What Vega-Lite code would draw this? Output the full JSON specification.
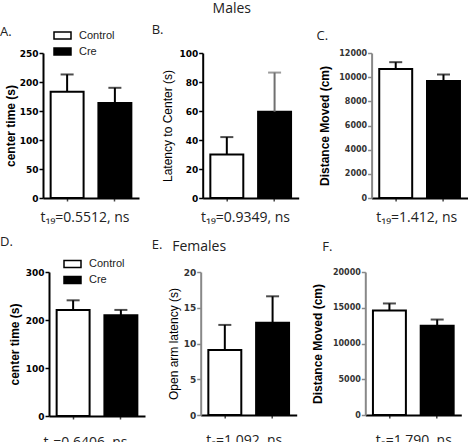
{
  "$schema": "https://vega.github.io/schema/vega-lite/v6.json",
  "padding": {"left": 0, "top": 2, "right": 0, "bottom": 0},
  "background": "white",
  "datasets": {
    "d": [
      {"panel": "A", "group": "Control", "value": 183, "upper": 213},
      {"panel": "A", "group": "Cre", "value": 164, "upper": 190},
      {"panel": "B", "group": "Control", "value": 30, "upper": 42},
      {"panel": "B", "group": "Cre", "value": 59.5, "upper": 86.5},
      {"panel": "C", "group": "Control", "value": 10680, "upper": 11240},
      {"panel": "C", "group": "Cre", "value": 9680, "upper": 10220},
      {"panel": "D", "group": "Control", "value": 221, "upper": 241},
      {"panel": "D", "group": "Cre", "value": 210, "upper": 221},
      {"panel": "E", "group": "Control", "value": 9.1, "upper": 12.6},
      {"panel": "E", "group": "Cre", "value": 12.9, "upper": 16.6},
      {"panel": "F", "group": "Control", "value": 14600, "upper": 15600},
      {"panel": "F", "group": "Cre", "value": 12500, "upper": 13350}
    ]
  },
  "data": {"name": "d"},
  "config": {
    "view": {"stroke": null},
    "axis": {"grid": false, "domainColor": "black", "domainWidth": 2, "tickColor": "black", "tickWidth": 1.5, "tickSize": 4,
      "labelFont": "DejaVu Sans", "labelFontWeight": "bold", "labelFontSize": 9, "labelColor": "black", "labelPadding": 1, "labelOverlap": false, "titleColor": "black"},
    "axisX": {"labels": false, "tickSize": 3, "tickColor": "#444", "minExtent": 3, "maxExtent": 3, "titlePadding": 9.5,
      "titleFont": "Open Sans", "titleFontSize": 14, "titleFontWeight": "normal", "titleColor": "#222", "titleAlign": "center"},
    "axisY": {"titleFont": "Liberation Sans", "titleFontSize": 12, "titleFontWeight": "bold", "titlePadding": 0},
    "legend": {"padding": 0, "offset": 0, "rowPadding": 0, "symbolType": "M-1,-0.41H1V0.41H-1Z", "symbolSize": 289,
      "symbolStrokeColor": "black", "symbolStrokeWidth": 1.5, "labelFont": "Liberation Sans", "labelFontSize": 11, "labelColor": "#222", "labelOffset": 7},
    "title": {"anchor": "start", "frame": "group", "font": "Open Sans", "fontSize": 13, "fontWeight": "normal", "color": "#222", "baseline": "alphabetic"}
  },
  "resolve": {"scale": {"fill": "independent"}, "legend": {"fill": "independent"}},
  "columns": 1,
  "align": "none",
  "bounds": "full",
  "spacing": 10,
  "concat": [
    {
      "title": {"text": "Males", "anchor": "middle", "frame": "bounds", "fontSize": 14, "dx": -2, "offset": 8},
      "bounds": "full",
      "spacing": 17.6,
      "resolve": {"scale": {"fill": "independent"}, "legend": {"fill": "independent"}},
      "hconcat": [
        {
          "bounds": "flush",
          "spacing": 63.7,
          "resolve": {"scale": {"fill": "independent"}, "legend": {"fill": "independent"}},
          "hconcat": [
            {
              "width": 96, "height": 145,
              "title": {"text": "A.", "dx": -43, "offset": -12.5},
              "transform": [{"filter": "datum.panel==='A'"}],
              "encoding": {
                "x": {"field": "group", "type": "nominal", "sort": ["Control", "Cre"], "scale": {"paddingInner": 0.31, "paddingOuter": 0.16}, "axis": {"title": "t₁₉=0.5512, ns", "titleX": 41.5}},
                "y": {"field": "value", "type": "quantitative", "scale": {"domain": [0, 250]}, "title": "center time (s)", "axis": {"values": [0, 50, 100, 150, 200, 250], "labelOverlap": false, "minExtent": 26, "maxExtent": 26}}
              },
              "layer": [
                {"mark": {"type": "bar", "stroke": "black", "strokeWidth": 2},
                 "encoding": {"fill": {"field": "group", "type": "nominal", "scale": {"domain": ["Control", "Cre"], "range": ["white", "black"]}, "legend": {"orient": "none", "legendX": 10, "legendY": -27, "title": null}}}},
                {"mark": {"type": "rule", "strokeWidth": 2, "color": "black"}, "encoding": {"y2": {"field": "upper"}}},
                {"mark": {"type": "tick", "thickness": 2, "size": 13, "color": "black"}, "encoding": {"y": {"field": "upper", "type": "quantitative", "scale": {"domain": [0, 250]}, "title": "center time (s)", "axis": {"values": [0, 50, 100, 150, 200, 250], "labelOverlap": false, "minExtent": 26, "maxExtent": 26}}}}
              ]
            },
            {
              "width": 96, "height": 145,
              "title": {"text": "B.", "dx": -51, "offset": 11.8},
              "transform": [{"filter": "datum.panel==='B'"}],
              "encoding": {
                "x": {"field": "group", "type": "nominal", "sort": ["Control", "Cre"], "scale": {"paddingInner": 0.31, "paddingOuter": 0.16}, "axis": {"title": "t₁₉=0.9349, ns", "titleX": 42.3}},
                "y": {"field": "value", "type": "quantitative", "scale": {"domain": [0, 100]}, "title": "Latency to Center (s)", "axis": {"titleFontWeight": "normal", "values": [0, 20, 40, 60, 80, 100], "labelOverlap": false, "minExtent": 28, "maxExtent": 28}}
              },
              "layer": [
                {"mark": {"type": "bar", "stroke": "black", "strokeWidth": 2},
                 "encoding": {"fill": {"field": "group", "type": "nominal", "scale": {"domain": ["Control", "Cre"], "range": ["white", "black"]}, "legend": null}}},
                {"mark": {"type": "rule", "strokeWidth": 2}, "encoding": {"y2": {"field": "upper"}, "color": {"condition": {"test": "datum.group==='Cre'", "value": "#707070"}, "value": "black"}}},
                {"mark": {"type": "tick", "thickness": 2, "size": 13}, "encoding": {"y": {"field": "upper", "type": "quantitative", "scale": {"domain": [0, 100]}, "title": "Latency to Center (s)", "axis": {"titleFontWeight": "normal", "values": [0, 20, 40, 60, 80, 100], "labelOverlap": false, "minExtent": 28, "maxExtent": 28}}, "color": {"condition": {"test": "datum.group==='Cre'", "value": "#707070"}, "value": "black"}}}
              ]
            }
          ]
        },
        {
          "width": 96, "height": 145,
          "title": {"text": "C.", "dx": -55, "offset": 6},
          "transform": [{"filter": "datum.panel==='C'"}],
          "encoding": {
            "x": {"field": "group", "type": "nominal", "sort": ["Control", "Cre"], "scale": {"paddingInner": 0.31, "paddingOuter": 0.16}, "axis": {"title": "t₁₉=1.412, ns", "titleX": 44.7}},
            "y": {"field": "value", "type": "quantitative", "scale": {"domain": [0, 12000]}, "title": "Distance Moved (cm)", "axis": {"format": "d", "values": [0, 2000, 4000, 6000, 8000, 10000, 12000], "labelOverlap": false, "labelFontSize": 8, "labelColor": "#333", "domainColor": "#888", "tickColor": "#888", "minExtent": 40, "maxExtent": 40}}
          },
          "layer": [
            {"mark": {"type": "bar", "stroke": "black", "strokeWidth": 2},
             "encoding": {"fill": {"field": "group", "type": "nominal", "scale": {"domain": ["Control", "Cre"], "range": ["white", "black"]}, "legend": null}}},
            {"mark": {"type": "rule", "strokeWidth": 2, "color": "black"}, "encoding": {"y2": {"field": "upper"}}},
            {"mark": {"type": "tick", "thickness": 2, "size": 13, "color": "black"}, "encoding": {"y": {"field": "upper", "type": "quantitative", "scale": {"domain": [0, 12000]}, "title": "Distance Moved (cm)", "axis": {"format": "d", "values": [0, 2000, 4000, 6000, 8000, 10000, 12000], "labelOverlap": false, "labelFontSize": 8, "labelColor": "#333", "domainColor": "#888", "tickColor": "#888", "minExtent": 40, "maxExtent": 40}}}}
          ]
        }
      ]
    },
    {
      "title": {"text": "Females", "anchor": "middle", "frame": "bounds", "fontSize": 14, "dx": -31.5, "offset": -18},
      "bounds": "full",
      "spacing": 13.3,
      "resolve": {"scale": {"fill": "independent"}, "legend": {"fill": "independent"}},
      "hconcat": [
        {
          "bounds": "flush",
          "spacing": 55.7,
          "resolve": {"scale": {"fill": "independent"}, "legend": {"fill": "independent"}},
          "hconcat": [
            {
              "width": 102, "height": 144,
              "title": {"text": "D.", "dx": -43, "offset": 6},
              "transform": [{"filter": "datum.panel==='D'"}],
              "encoding": {
                "x": {"field": "group", "type": "nominal", "sort": ["Control", "Cre"], "scale": {"range": [6, 102], "paddingInner": 0.31, "paddingOuter": 0.16}, "axis": {"title": "t₈=0.6406, ns", "titleX": 42, "titlePadding": 16.5}},
                "y": {"field": "value", "type": "quantitative", "scale": {"domain": [0, 300]}, "title": "center time (s)", "axis": {"offset": -6, "values": [0, 100, 200, 300], "labelOverlap": false, "minExtent": 28, "maxExtent": 28}}
              },
              "layer": [
                {"mark": {"type": "bar", "stroke": "black", "strokeWidth": 2},
                 "encoding": {"fill": {"field": "group", "type": "nominal", "scale": {"domain": ["Control", "Cre"], "range": ["white", "black"]}, "legend": {"orient": "none", "legendX": 20, "legendY": -17.5, "title": null}}}},
                {"mark": {"type": "rule", "strokeWidth": 2, "color": "black"}, "encoding": {"y2": {"field": "upper"}}},
                {"mark": {"type": "tick", "thickness": 2, "size": 13, "color": "black"}, "encoding": {"y": {"field": "upper", "type": "quantitative", "scale": {"domain": [0, 300]}, "title": "center time (s)", "axis": {"offset": -6, "values": [0, 100, 200, 300], "labelOverlap": false, "minExtent": 28, "maxExtent": 28}}}}
              ]
            },
            {
              "width": 96, "height": 143,
              "title": {"text": "E.", "dx": -49, "offset": 16},
              "transform": [{"filter": "datum.panel==='E'"}],
              "encoding": {
                "x": {"field": "group", "type": "nominal", "sort": ["Control", "Cre"], "scale": {"paddingInner": 0.31, "paddingOuter": 0.16}, "axis": {"title": "t₈=1.092, ns", "titleX": 43, "titlePadding": 15.5}},
                "y": {"field": "value", "type": "quantitative", "scale": {"domain": [0, 20]}, "title": "Open arm latency (s)", "axis": {"titleFontWeight": "normal", "values": [0, 5, 10, 15, 20], "labelOverlap": false, "labelColor": "#333", "domainColor": "#888", "tickColor": "#888", "minExtent": 20, "maxExtent": 20}}
              },
              "layer": [
                {"mark": {"type": "bar", "stroke": "black", "strokeWidth": 2},
                 "encoding": {"fill": {"field": "group", "type": "nominal", "scale": {"domain": ["Control", "Cre"], "range": ["white", "black"]}, "legend": null}}},
                {"mark": {"type": "rule", "strokeWidth": 2, "color": "black"}, "encoding": {"y2": {"field": "upper"}}},
                {"mark": {"type": "tick", "thickness": 2, "size": 13, "color": "black"}, "encoding": {"y": {"field": "upper", "type": "quantitative", "scale": {"domain": [0, 20]}, "title": "Open arm latency (s)", "axis": {"titleFontWeight": "normal", "values": [0, 5, 10, 15, 20], "labelOverlap": false, "labelColor": "#333", "domainColor": "#888", "tickColor": "#888", "minExtent": 20, "maxExtent": 20}}}}
              ]
            }
          ]
        },
        {
          "width": 96, "height": 143,
          "title": {"text": "F.", "dx": -43, "offset": 14.5},
          "transform": [{"filter": "datum.panel==='F'"}],
          "encoding": {
            "x": {"field": "group", "type": "nominal", "sort": ["Control", "Cre"], "scale": {"paddingInner": 0.31, "paddingOuter": 0.16}, "axis": {"title": "t₈=1.790, ns", "titleX": 48, "titlePadding": 15.5}},
            "y": {"field": "value", "type": "quantitative", "scale": {"domain": [0, 20000]}, "title": "Distance Moved (cm)", "axis": {"format": "d", "values": [0, 5000, 10000, 15000, 20000], "labelOverlap": false, "labelFontSize": 8, "labelColor": "#333", "domainColor": "#888", "tickColor": "#888", "minExtent": 41, "maxExtent": 41}}
          },
          "layer": [
            {"mark": {"type": "bar", "stroke": "black", "strokeWidth": 2},
             "encoding": {"fill": {"field": "group", "type": "nominal", "scale": {"domain": ["Control", "Cre"], "range": ["white", "black"]}, "legend": null}}},
            {"mark": {"type": "rule", "strokeWidth": 2, "color": "black"}, "encoding": {"y2": {"field": "upper"}}},
            {"mark": {"type": "tick", "thickness": 2, "size": 13, "color": "black"}, "encoding": {"y": {"field": "upper", "type": "quantitative", "scale": {"domain": [0, 20000]}, "title": "Distance Moved (cm)", "axis": {"format": "d", "values": [0, 5000, 10000, 15000, 20000], "labelOverlap": false, "labelFontSize": 8, "labelColor": "#333", "domainColor": "#888", "tickColor": "#888", "minExtent": 41, "maxExtent": 41}}}}
          ]
        }
      ]
    }
  ]
}
